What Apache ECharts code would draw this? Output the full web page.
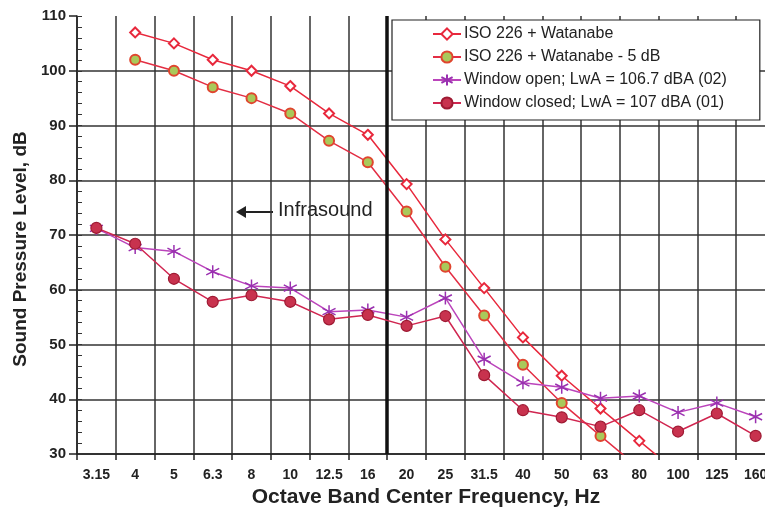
<!DOCTYPE html>
<html>
<head>
<meta charset="utf-8">
<script src="https://cdn.jsdelivr.net/npm/echarts@6/dist/echarts.min.js"></script>
<style>
  html, body { margin: 0; padding: 0; background: #fff; }
  #chart { width: 765px; height: 517px; }
</style>
</head>
<body>
<div id="chart"></div>
<script>
// octave band centre frequencies, Hz
const frequencies = ['3.15', '4', '5', '6.3', '8', '10', '12.5', '16', '20', '25', '31.5', '40', '50', '63', '80', '100', '125', '160']

// ISO 226 + Watanabe threshold (last point runs off the bottom of the chart)
const isoWatanabe = [null, 107, 105, 102, 100, 97.2, 92.2, 88.3, 79.3, 69.2, 60.3, 51.3, 44.3, 38.3, 32.4, 26.5, null, null]
const isoWatanabeMinus5 = [null, 102, 100, 97, 95, 92.2, 87.2, 83.3, 74.3, 64.2, 55.3, 46.3, 39.3, 33.3, 27.4, null, null, null]
const windowOpen = [71.2, 67.7, 67, 63.3, 60.7, 60.3, 56, 56.3, 55, 58.5, 47.3, 43, 42.2, 40.2, 40.6, 37.6, 39.3, 36.8]
const windowClosed = [71.3, 68.4, 62, 57.8, 59, 57.8, 54.6, 55.4, 53.4, 55.2, 44.4, 38, 36.7, 35, 38, 34.1, 37.4, 33.3]

// the infrasound boundary sits between 16 and 20 Hz (band boundary index 8)
const infrasoundEdge = 8

const asterisk = 'path://M0,-10L0,10M-8.66,-5L8.66,5M-8.66,5L8.66,-5'
const font = 'Liberation Sans, Arial, sans-serif'

const chart = echarts.init(document.getElementById('chart'))

const options = {
  animation: false,
  backgroundColor: '#fff',
  textStyle: { fontFamily: font },
  grid: {
    left: 77,
    top: 16,
    right: -10,
    bottom: 63,
    outerBoundsMode: 'none'
  },
  legend: {
    orient: 'vertical',
    left: 392,
    top: 20,
    padding: [6, 33, 9, 40],
    itemGap: 7,
    itemWidth: 28,
    itemHeight: 14,
    backgroundColor: '#fff',
    borderColor: '#222',
    borderWidth: 1.2,
    borderRadius: 0,
    textStyle: { fontFamily: font, fontSize: 16, color: '#222', padding: [0, 0, 0, -2] },
    data: ['ISO 226 + Watanabe', 'ISO 226 + Watanabe - 5 dB', 'Window open; LwA = 106.7 dBA (02)', 'Window closed; LwA = 107 dBA (01)']
  },
  xAxis: [
    {
      type: 'category',
      data: frequencies,
      boundaryGap: true,
      name: 'Octave Band Center Frequency, Hz',
      nameLocation: 'middle',
      nameGap: 32,
      nameTextStyle: { fontFamily: font, fontSize: 21, fontWeight: 'bold', color: '#222' },
      axisLine: { lineStyle: { color: '#222', width: 1.5 } },
      axisTick: { show: true, length: 6, lineStyle: { color: '#222', width: 1.5 } },
      axisLabel: { fontFamily: font, fontSize: 14, fontWeight: 'bold', color: '#222', margin: 14 },
      splitLine: { show: true, lineStyle: { color: '#333', width: 1.5 } }
    },
    {
      type: 'value',
      min: 0,
      max: frequencies.length,
      show: false
    }
  ],
  yAxis: [
    {
      type: 'value',
      min: 30,
      max: 110,
      interval: 10,
      name: 'Sound Pressure Level, dB',
      nameLocation: 'middle',
      nameGap: 46,
      nameTextStyle: { fontFamily: font, fontSize: 19, fontWeight: 'bold', color: '#222', padding: [0, 28, 0, 0] },
      axisLine: { show: true, lineStyle: { color: '#222', width: 1.5 } },
      axisTick: { show: true, length: 8, lineStyle: { color: '#222', width: 1.5 } },
      axisLabel: { fontFamily: font, fontSize: 15, fontWeight: 'bold', color: '#222', margin: 11 },
      splitLine: { show: true, showMaxLine: false, lineStyle: { color: '#333', width: 1.5 } }
    },
    {
      type: 'value',
      min: 30,
      max: 110,
      interval: 2,
      position: 'left',
      axisLine: { show: false },
      axisTick: { show: true, inside: true, length: 5, lineStyle: { color: '#333', width: 1 } },
      axisLabel: { show: false },
      splitLine: { show: false }
    }
  ],
  graphic: [
    {
      type: 'line',
      shape: { x1: 240, y1: 212, x2: 273, y2: 212 },
      style: { stroke: '#222', lineWidth: 2 }
    },
    {
      type: 'polygon',
      shape: { points: [[236, 212], [246, 206], [246, 218]] },
      style: { fill: '#222' }
    },
    {
      type: 'text',
      left: 278,
      top: 200,
      style: { text: 'Infrasound', fontFamily: font, fontSize: 20, fill: '#222' }
    }
  ],
  series: [
    {
      name: 'ISO 226 + Watanabe',
      type: 'line',
      data: isoWatanabe,
      symbol: 'emptyDiamond',
      symbolSize: 10,
      showAllSymbol: true,
      lineStyle: { color: '#e8283c', width: 1.5 },
      itemStyle: { color: '#e8283c', borderColor: '#e8283c', borderWidth: 1.2 },
      z: 3
    },
    {
      name: 'ISO 226 + Watanabe - 5 dB',
      type: 'line',
      data: isoWatanabeMinus5,
      symbol: 'circle',
      symbolSize: 10,
      lineStyle: { color: '#e32e44', width: 1.5 },
      itemStyle: { color: '#a9c95a', borderColor: '#e0452e', borderWidth: 2 },
      z: 3
    },
    {
      name: 'Window open; LwA = 106.7 dBA (02)',
      type: 'line',
      data: windowOpen,
      symbol: asterisk,
      symbolSize: 13,
      lineStyle: { color: '#bb44bb', width: 1.5 },
      itemStyle: { color: '#9a30b0', borderColor: '#9a30b0', borderWidth: 1.5 },
      z: 4
    },
    {
      name: 'Window closed; LwA = 107 dBA (01)',
      type: 'line',
      data: windowClosed,
      symbol: 'circle',
      symbolSize: 11,
      lineStyle: { color: '#d02650', width: 1.5 },
      itemStyle: { color: '#c8324e', borderColor: '#9e1a33', borderWidth: 1.2 },
      z: 5
    },
    {
      name: 'infrasound edge',
      type: 'line',
      xAxisIndex: 1,
      yAxisIndex: 0,
      data: [],
      silent: true,
      markLine: {
        silent: true,
        symbol: 'none',
        label: { show: false },
        lineStyle: { color: '#111', width: 3.5, type: 'solid' },
        data: [{ xAxis: infrasoundEdge }]
      },
      z: 6
    }
  ]
}

chart.setOption(options)
window.addEventListener('resize', () => {
  chart.resize()
})
</script>
</body>
</html>
